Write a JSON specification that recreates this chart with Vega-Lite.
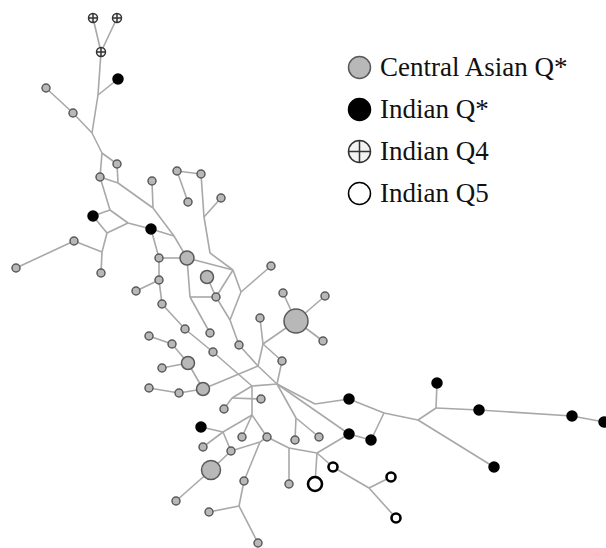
{
  "$schema": "https://vega.github.io/schema/vega-lite/v6.json",
  "width": 606,
  "height": 548,
  "padding": 0,
  "autosize": {"type": "none"},
  "background": "#ffffff",
  "config": {"view": {"stroke": null}},
  "datasets": {
    "edges": [
      {"x":93,"y":18,"x2":101,"y2":52},{"x":117,"y":18,"x2":101,"y2":52},{"x":101,"y":52,"x2":98,"y2":95},
      {"x":98,"y":95,"x2":118,"y2":79},{"x":98,"y":95,"x2":92,"y2":133},{"x":46,"y":88,"x2":73,"y2":113},
      {"x":73,"y":113,"x2":92,"y2":133},{"x":92,"y":133,"x2":102,"y2":153},{"x":102,"y":153,"x2":117,"y2":164},
      {"x":102,"y":153,"x2":100,"y2":177},{"x":117,"y":164,"x2":118,"y2":183},{"x":100,"y":177,"x2":118,"y2":183},
      {"x":118,"y":183,"x2":153,"y2":208},{"x":152,"y":181,"x2":153,"y2":208},{"x":153,"y":208,"x2":174,"y2":236},
      {"x":174,"y":236,"x2":187,"y2":258},{"x":100,"y":177,"x2":110,"y2":210},{"x":110,"y":210,"x2":93,"y2":216},
      {"x":110,"y":210,"x2":128,"y2":223},{"x":93,"y":216,"x2":107,"y2":233},{"x":128,"y":223,"x2":107,"y2":233},
      {"x":128,"y":223,"x2":151,"y2":229},{"x":151,"y":229,"x2":174,"y2":236},{"x":107,"y":233,"x2":102,"y2":252},
      {"x":74,"y":241,"x2":102,"y2":252},{"x":16,"y":268,"x2":74,"y2":241},{"x":102,"y":252,"x2":101,"y2":273},
      {"x":151,"y":229,"x2":159,"y2":258},{"x":159,"y":258,"x2":187,"y2":258},{"x":159,"y":258,"x2":159,"y2":280},
      {"x":136,"y":291,"x2":159,"y2":280},{"x":159,"y":280,"x2":162,"y2":304},{"x":162,"y":304,"x2":185,"y2":329},
      {"x":185,"y":329,"x2":213,"y2":352},{"x":213,"y":352,"x2":252,"y2":386},{"x":177,"y":171,"x2":201,"y2":174},
      {"x":177,"y":171,"x2":188,"y2":202},{"x":201,"y":174,"x2":204,"y2":217},{"x":221,"y":198,"x2":204,"y2":217},
      {"x":204,"y":217,"x2":210,"y2":253},{"x":210,"y":253,"x2":233,"y2":270},{"x":187,"y":258,"x2":233,"y2":270},
      {"x":233,"y":270,"x2":216,"y2":297},{"x":233,"y":270,"x2":241,"y2":292},{"x":241,"y":292,"x2":271,"y2":266},
      {"x":241,"y":292,"x2":230,"y2":320},{"x":216,"y":297,"x2":230,"y2":320},{"x":187,"y":258,"x2":190,"y2":297},
      {"x":190,"y":297,"x2":216,"y2":297},{"x":190,"y":297,"x2":210,"y2":333},{"x":207,"y":277,"x2":216,"y2":297},
      {"x":230,"y":320,"x2":239,"y2":345},{"x":239,"y":345,"x2":258,"y2":366},{"x":296,"y":321,"x2":263,"y2":344},
      {"x":260,"y":318,"x2":263,"y2":344},{"x":263,"y":344,"x2":258,"y2":366},{"x":263,"y":344,"x2":282,"y2":361},
      {"x":282,"y":361,"x2":277,"y2":384},{"x":258,"y":366,"x2":277,"y2":384},{"x":203,"y":389,"x2":258,"y2":366},
      {"x":252,"y":386,"x2":277,"y2":384},{"x":296,"y":321,"x2":283,"y2":293},{"x":296,"y":321,"x2":325,"y2":296},
      {"x":296,"y":321,"x2":323,"y2":341},{"x":149,"y":336,"x2":172,"y2":344},{"x":172,"y":344,"x2":188,"y2":363},
      {"x":162,"y":368,"x2":188,"y2":363},{"x":188,"y":363,"x2":203,"y2":389},{"x":149,"y":388,"x2":179,"y2":393},
      {"x":179,"y":393,"x2":203,"y2":389},{"x":252,"y":386,"x2":232,"y2":398},{"x":232,"y":398,"x2":261,"y2":399},
      {"x":232,"y":398,"x2":224,"y2":409},{"x":252,"y":386,"x2":252,"y2":415},{"x":252,"y":415,"x2":223,"y2":432},
      {"x":223,"y":432,"x2":201,"y2":427},{"x":223,"y":432,"x2":203,"y2":447},{"x":223,"y":432,"x2":231,"y2":451},
      {"x":252,"y":415,"x2":242,"y2":437},{"x":252,"y":415,"x2":267,"y2":437},{"x":231,"y":451,"x2":211,"y2":470},
      {"x":211,"y":470,"x2":176,"y2":501},{"x":231,"y":451,"x2":260,"y2":442},{"x":260,"y":442,"x2":267,"y2":437},
      {"x":260,"y":442,"x2":244,"y2":481},{"x":244,"y":481,"x2":239,"y2":506},{"x":239,"y":506,"x2":209,"y2":512},
      {"x":239,"y":506,"x2":258,"y2":543},{"x":267,"y":437,"x2":289,"y2":448},{"x":289,"y":448,"x2":317,"y2":453},
      {"x":317,"y":453,"x2":349,"y2":434},{"x":289,"y":448,"x2":289,"y2":484},{"x":317,"y":453,"x2":315,"y2":484},
      {"x":317,"y":453,"x2":333,"y2":467},{"x":333,"y":467,"x2":369,"y2":488},{"x":369,"y":488,"x2":391,"y2":477},
      {"x":369,"y":488,"x2":396,"y2":518},{"x":277,"y":384,"x2":296,"y2":418},{"x":296,"y":418,"x2":295,"y2":440},
      {"x":296,"y":418,"x2":319,"y2":437},{"x":277,"y":384,"x2":315,"y2":404},{"x":315,"y":404,"x2":349,"y2":399},
      {"x":277,"y":384,"x2":349,"y2":434},{"x":349,"y":399,"x2":384,"y2":413},{"x":384,"y":413,"x2":418,"y2":420},
      {"x":418,"y":420,"x2":436,"y2":408},{"x":436,"y":408,"x2":437,"y2":383},{"x":436,"y":408,"x2":479,"y2":410},
      {"x":479,"y":410,"x2":572,"y2":416},{"x":572,"y":416,"x2":604,"y2":422},{"x":418,"y":420,"x2":494,"y2":467},
      {"x":384,"y":413,"x2":371,"y2":440},{"x":349,"y":434,"x2":371,"y2":440}
    ],
    "nodes": [
      {"x":93,"y":18,"group":"Indian Q4","sz":81},{"x":117,"y":18,"group":"Indian Q4","sz":81},{"x":101,"y":52,"group":"Indian Q4","sz":81},
      {"x":118,"y":79,"group":"Indian Q*","sz":100},{"x":93,"y":216,"group":"Indian Q*","sz":100},{"x":151,"y":229,"group":"Indian Q*","sz":100},
      {"x":201,"y":427,"group":"Indian Q*","sz":100},{"x":349,"y":399,"group":"Indian Q*","sz":100},{"x":349,"y":434,"group":"Indian Q*","sz":100},
      {"x":371,"y":440,"group":"Indian Q*","sz":100},{"x":437,"y":383,"group":"Indian Q*","sz":100},{"x":479,"y":410,"group":"Indian Q*","sz":100},
      {"x":572,"y":416,"group":"Indian Q*","sz":100},{"x":604,"y":422,"group":"Indian Q*","sz":100},{"x":494,"y":467,"group":"Indian Q*","sz":100},
      {"x":333,"y":467,"group":"Indian Q5","sz":81},{"x":391,"y":477,"group":"Indian Q5","sz":81},{"x":396,"y":518,"group":"Indian Q5","sz":81},
      {"x":315,"y":484,"group":"Indian Q5","sz":196},
      {"x":46,"y":88,"group":"Central Asian Q*","sz":64},{"x":73,"y":113,"group":"Central Asian Q*","sz":64},{"x":117,"y":164,"group":"Central Asian Q*","sz":64},
      {"x":100,"y":177,"group":"Central Asian Q*","sz":64},{"x":152,"y":181,"group":"Central Asian Q*","sz":64},{"x":74,"y":241,"group":"Central Asian Q*","sz":64},
      {"x":16,"y":268,"group":"Central Asian Q*","sz":64},{"x":101,"y":273,"group":"Central Asian Q*","sz":64},{"x":159,"y":258,"group":"Central Asian Q*","sz":64},
      {"x":159,"y":280,"group":"Central Asian Q*","sz":64},{"x":136,"y":291,"group":"Central Asian Q*","sz":64},{"x":162,"y":304,"group":"Central Asian Q*","sz":64},
      {"x":177,"y":171,"group":"Central Asian Q*","sz":64},{"x":201,"y":174,"group":"Central Asian Q*","sz":64},{"x":188,"y":202,"group":"Central Asian Q*","sz":64},
      {"x":221,"y":198,"group":"Central Asian Q*","sz":64},{"x":271,"y":266,"group":"Central Asian Q*","sz":64},{"x":216,"y":297,"group":"Central Asian Q*","sz":64},
      {"x":283,"y":293,"group":"Central Asian Q*","sz":64},{"x":325,"y":296,"group":"Central Asian Q*","sz":64},{"x":323,"y":341,"group":"Central Asian Q*","sz":64},
      {"x":260,"y":318,"group":"Central Asian Q*","sz":64},{"x":239,"y":345,"group":"Central Asian Q*","sz":64},{"x":282,"y":361,"group":"Central Asian Q*","sz":64},
      {"x":210,"y":333,"group":"Central Asian Q*","sz":64},{"x":185,"y":329,"group":"Central Asian Q*","sz":64},{"x":213,"y":352,"group":"Central Asian Q*","sz":64},
      {"x":149,"y":336,"group":"Central Asian Q*","sz":64},{"x":172,"y":344,"group":"Central Asian Q*","sz":64},{"x":162,"y":368,"group":"Central Asian Q*","sz":64},
      {"x":149,"y":388,"group":"Central Asian Q*","sz":64},{"x":179,"y":393,"group":"Central Asian Q*","sz":64},{"x":261,"y":399,"group":"Central Asian Q*","sz":64},
      {"x":224,"y":409,"group":"Central Asian Q*","sz":64},{"x":242,"y":437,"group":"Central Asian Q*","sz":64},{"x":267,"y":437,"group":"Central Asian Q*","sz":64},
      {"x":203,"y":447,"group":"Central Asian Q*","sz":64},{"x":231,"y":451,"group":"Central Asian Q*","sz":64},{"x":176,"y":501,"group":"Central Asian Q*","sz":64},
      {"x":244,"y":481,"group":"Central Asian Q*","sz":64},{"x":209,"y":512,"group":"Central Asian Q*","sz":64},{"x":258,"y":543,"group":"Central Asian Q*","sz":64},
      {"x":295,"y":440,"group":"Central Asian Q*","sz":64},{"x":319,"y":437,"group":"Central Asian Q*","sz":64},{"x":289,"y":484,"group":"Central Asian Q*","sz":64},
      {"x":207,"y":277,"group":"Central Asian Q*","sz":169},{"x":188,"y":363,"group":"Central Asian Q*","sz":169},{"x":203,"y":389,"group":"Central Asian Q*","sz":169},
      {"x":187,"y":258,"group":"Central Asian Q*","sz":196},{"x":211,"y":470,"group":"Central Asian Q*","sz":361},{"x":296,"y":321,"group":"Central Asian Q*","sz":576}
    ]
  },
  "layer": [
    {
      "data": {"name": "edges"},
      "mark": {"type": "rule", "color": "#a8a8a8", "strokeWidth": 1.6},
      "encoding": {
        "x": {"field": "x", "type": "quantitative", "scale": {"domain": [0, 606], "nice": false, "zero": false}, "axis": null},
        "y": {"field": "y", "type": "quantitative", "scale": {"domain": [0, 548], "nice": false, "zero": false, "reverse": true}, "axis": null},
        "x2": {"field": "x2"},
        "y2": {"field": "y2"}
      }
    },
    {
      "data": {"name": "nodes"},
      "mark": {"type": "point", "filled": true, "opacity": 1},
      "encoding": {
        "x": {"field": "x", "type": "quantitative"},
        "y": {"field": "y", "type": "quantitative"},
        "size": {"field": "sz", "type": "quantitative", "scale": null, "legend": null},
        "fill": {
          "field": "group", "type": "nominal",
          "scale": {"domain": ["Central Asian Q*", "Indian Q*", "Indian Q4", "Indian Q5"], "range": ["#b8b8b8", "#000000", "#f2f2f2", "#ffffff"]},
          "legend": {
            "title": null, "orient": "none", "legendX": 346, "legendY": 54,
            "padding": 0, "symbolSize": 484, "labelFont": "Liberation Serif", "labelFontSize": 27,
            "labelColor": "#111111", "labelOffset": 7, "rowPadding": 13, "labelLimit": 300,
            "symbolStrokeWidth": 1.5,
            "encode": {
              "symbols": {
                "strokeWidth": {"signal": "datum.value === 'Indian Q5' ? 2.6 : datum.value === 'Central Asian Q*' ? 0 : 1.5"}
              }
            }
          }
        },
        "stroke": {
          "field": "group", "type": "nominal",
          "scale": {"domain": ["Central Asian Q*", "Indian Q*", "Indian Q4", "Indian Q5"], "range": ["#5a5a5a", "#000000", "#333333", "#000000"]}
        },
        "strokeWidth": {
          "condition": {"test": "datum.group === 'Indian Q5'", "value": 2.6},
          "value": 1.5
        },
        "shape": {
          "field": "group", "type": "nominal",
          "scale": {"domain": ["Central Asian Q*", "Indian Q*", "Indian Q4", "Indian Q5"], "range": ["circle", "circle", "M-1,0A1,1,0,1,1,1,0A1,1,0,1,1,-1,0ZM-1,0L1,0M0,-1L0,1", "circle"]}
        }
      }
    }
  ]
}
